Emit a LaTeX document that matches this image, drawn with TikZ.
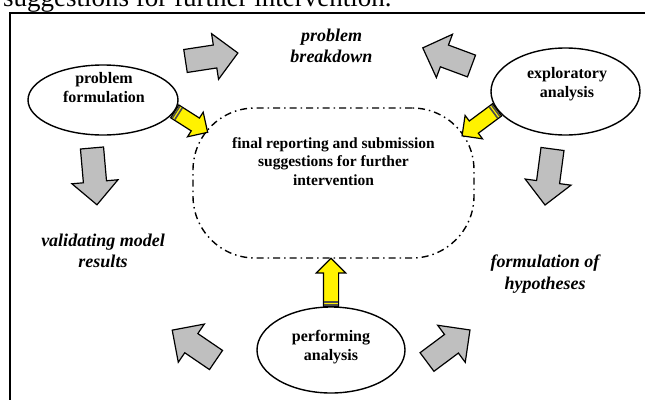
\documentclass[tikz,border=0pt]{standalone}
\usepackage{fontspec}
\setmainfont{Liberation Serif}
\usetikzlibrary{shapes.geometric,shapes.arrows,positioning,calc}

\begin{document}
\begin{tikzpicture}[x = 1pt, y = -1pt,
        phase/.style = {ellipse, draw = black, line width = 1.4pt, inner sep = 0pt},
        phasetext/.style = {align = center, inner sep = 0pt, font = \fontsize{16}{19}\selectfont\bfseries},
        steplabel/.style = {align = center, inner sep = 0pt, font = \fontsize{18}{21.5}\selectfont\bfseries\itshape},
        finalbox/.style = {rectangle, draw = black, line width = 1.4pt, rounded corners = 62pt,
            dash pattern = on 7pt off 4pt on 1.5pt off 4pt, minimum width = 281pt, minimum height = 150pt},
        grayarrow/.style = {single arrow, draw = black, fill = black!25, line width = 1.2pt,
            inner xsep = 0pt, inner ysep = 11pt, single arrow head extend = 11.5pt,
            minimum width = 0pt, minimum height = #1, outer sep = 0pt, anchor = tail},
        yellowarrow/.style = {single arrow, draw = black, fill = yellow, line width = 1.2pt,
            inner xsep = 0pt, inner ysep = 7pt, single arrow head extend = 7pt,
            minimum width = 0pt, minimum height = #1, outer sep = 0pt, anchor = tail},
        band/.style = {draw = black!70, line width = 1.6pt}]
            \clip (0, 0) rectangle (645, 399);
            \node[anchor = base west, inner sep = 0pt, font = \fontsize{27}{30}\selectfont] (caption) at (3, 6) {suggestions for further intervention.};
            \draw[black, line width = 1.6pt] (10, 13) rectangle (700, 450);

            \node[phase, minimum width = 150pt, minimum height = 70pt] (form) at (103, 100) {};
            \node[phase, minimum width = 149pt, minimum height = 87pt] (explo) at (565.5, 91.5) {};
            \node[phase, minimum width = 148pt, minimum height = 86pt] (perf) at (331, 350) {};
            \node[phasetext] (formtext) at ([xshift = 1pt, yshift = 12pt]form.center) {problem\\formulation};
            \node[phasetext] (explotext) at ([xshift = 1.5pt, yshift = 7pt]explo.center) {exploratory\\analysis};
            \node[phasetext] (perftext) at ([yshift = 2.5pt]perf.center) {performing\\analysis};

            \node[finalbox] (final) at (333.5, 183) {};
            \node[phasetext, font = \fontsize{15.5}{18.5}\selectfont\bfseries, below = 30pt of final.north] (finaltext)
                {final reporting and submission\\suggestions for further\\intervention};

            \node[steplabel] (breakdown) at (331.5, 45.7) {problem\\breakdown};
            \node[steplabel] (validating) at (103, 251) {validating model\\results};
            \node[steplabel] (hypotheses) at (545, 274) {formulation of\\hypotheses};

            \node[grayarrow = 53pt, rotate = 8.7] (ga1) at (185.5, 61) {};
            \node[grayarrow = 52pt, rotate = 159.6] (ga2) at (471.5, 66) {};
            \node[grayarrow = 57pt, rotate = -85] (ga3) at (92, 148) {};
            \node[grayarrow = 56.5pt, rotate = -97.6] (ga4) at (552.5, 149) {};
            \node[grayarrow = 53pt, rotate = 145.7] (ga5) at (216, 360) {};
            \node[grayarrow = 53.6pt, rotate = 36.7] (ga6) at (427, 362) {};

            \node[yellowarrow = 39pt, rotate = -32.5] (ya1) at (form.-9.5) {};
            \node[yellowarrow = 43.6pt, rotate = -143.4] (ya2) at (explo.195) {};
            \node[yellowarrow = 48pt, rotate = 90] (ya3) at (perf.north) {};

            \foreach \a in {ya1, ya2, ya3}
                \foreach \d in {1.5pt, 4.5pt}
                    \draw[band] ($(\a.tail)!\d!(\a.tip)!7pt!90:(\a.tip)$) -- ($(\a.tail)!\d!(\a.tip)!7pt!-90:(\a.tip)$);

        \end{tikzpicture}
\end{document}
